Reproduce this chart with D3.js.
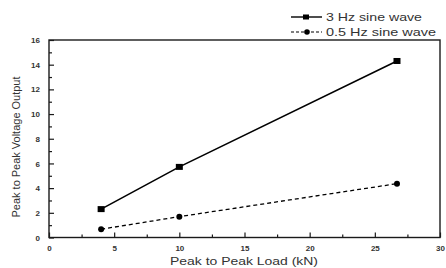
<!DOCTYPE html>
<html><head><meta charset="utf-8">
<script src="https://cdn.jsdelivr.net/npm/d3@7"></script>
<style>body{margin:0;background:#fff}svg{display:block}text{font-family:"Liberation Sans",Arial,sans-serif}</style>
</head><body>
<svg id="c" width="446" height="268"></svg>
<script>
const loads = [4, 10, 26.7];
const v3Hz = [2.3, 5.72, 14.3];
const v05Hz = [0.67, 1.69, 4.36];
const seriesNames = ["3 Hz sine wave", "0.5 Hz sine wave"];
const xTicks = [0, 5, 10, 15, 20, 25, 30];
const yTicks = [0, 2, 4, 6, 8, 10, 12, 14, 16];

const svg = d3.select("#c");
const m = {l: 49, r: 440, t: 40, b: 237.5};
const x = d3.scaleLinear().domain([0, 30]).range([m.l, m.r]);
const y = d3.scaleLinear().domain([0, 16]).range([m.b, m.t]);
const ink = "#1a1a1a";

// frame
svg.append("rect").attr("x", m.l).attr("y", m.t).attr("width", m.r - m.l).attr("height", m.b - m.t)
  .attr("fill", "none").attr("stroke", ink).attr("stroke-width", 1.4);

// x axis (ticks inward)
const xa = svg.append("g").attr("transform", `translate(0,${m.b})`)
  .call(d3.axisBottom(x).tickValues(xTicks).tickSizeInner(-5).tickSizeOuter(0).tickPadding(8).tickFormat(d3.format("d")));
xa.select(".domain").remove();
const xm = svg.append("g").attr("transform", `translate(0,${m.b})`)
  .call(d3.axisBottom(x).tickValues(d3.range(2.5, 30, 5)).tickSizeInner(-3).tickSizeOuter(0).tickFormat(""));
xm.select(".domain").remove();

const ya = svg.append("g").attr("transform", `translate(${m.l},0)`)
  .call(d3.axisLeft(y).tickValues(yTicks).tickSizeInner(-5).tickSizeOuter(0).tickPadding(9).tickFormat(d3.format("d")));
ya.select(".domain").remove();
const ym = svg.append("g").attr("transform", `translate(${m.l},0)`)
  .call(d3.axisLeft(y).tickValues(d3.range(1, 16, 2)).tickSizeInner(-3).tickSizeOuter(0).tickFormat(""));
ym.select(".domain").remove();

svg.selectAll(".tick line").attr("stroke", ink).attr("stroke-width", 1.2);
svg.selectAll(".tick text").attr("fill", "#333").attr("font-size", 8).attr("font-weight", "bold");

// axis titles
svg.append("text").attr("x", 244).attr("y", 265).attr("text-anchor", "middle")
  .attr("font-size", 11).attr("fill", "#333").attr("textLength", 148).attr("lengthAdjust", "spacingAndGlyphs")
  .text("Peak to Peak Load (kN)");
svg.append("text").attr("transform", "translate(20,147) rotate(-90)").attr("text-anchor", "middle")
  .attr("font-size", 11).attr("fill", "#333").attr("textLength", 141).attr("lengthAdjust", "spacingAndGlyphs")
  .text("Peak to Peak Voltage Output");

// series
const d3Hz = loads.map((l, i) => [l, v3Hz[i]]);
const d05 = loads.map((l, i) => [l, v05Hz[i]]);
const line = d3.line().x(d => x(d[0])).y(d => y(d[1]));
svg.append("path").datum(d3Hz).attr("d", line).attr("fill", "none").attr("stroke", "#000").attr("stroke-width", 1.6);
svg.append("path").datum(d05).attr("d", line).attr("fill", "none").attr("stroke", "#000").attr("stroke-width", 1.3).attr("stroke-dasharray", "4,3");
svg.selectAll(".sq").data(d3Hz).enter().append("rect")
  .attr("x", d => x(d[0]) - 3.5).attr("y", d => y(d[1]) - 3).attr("width", 7).attr("height", 6).attr("fill", "#000");
svg.selectAll(".ci").data(d05).enter().append("circle")
  .attr("cx", d => x(d[0])).attr("cy", d => y(d[1])).attr("r", 3).attr("fill", "#000");

// legend
const lg = svg.append("g");
[0, 1].forEach(i => {
  const yy = 17 + i * 15;
  lg.append("line").attr("x1", 291).attr("x2", 322).attr("y1", yy).attr("y2", yy)
    .attr("stroke", "#000").attr("stroke-width", i ? 1.2 : 1.4).attr("stroke-dasharray", i ? "3,2" : null);
  if (i === 0) lg.append("rect").attr("x", 303).attr("y", yy - 2.5).attr("width", 6).attr("height", 5).attr("fill", "#000");
  else lg.append("circle").attr("cx", 307).attr("cy", yy).attr("r", 2.8).attr("fill", "#000");
  lg.append("text").attr("x", 326).attr("y", yy + 4).attr("font-size", 11).attr("fill", "#333")
    .attr("textLength", i ? 110 : 96).attr("lengthAdjust", "spacingAndGlyphs").text(seriesNames[i]);
});
</script>
</body></html>
